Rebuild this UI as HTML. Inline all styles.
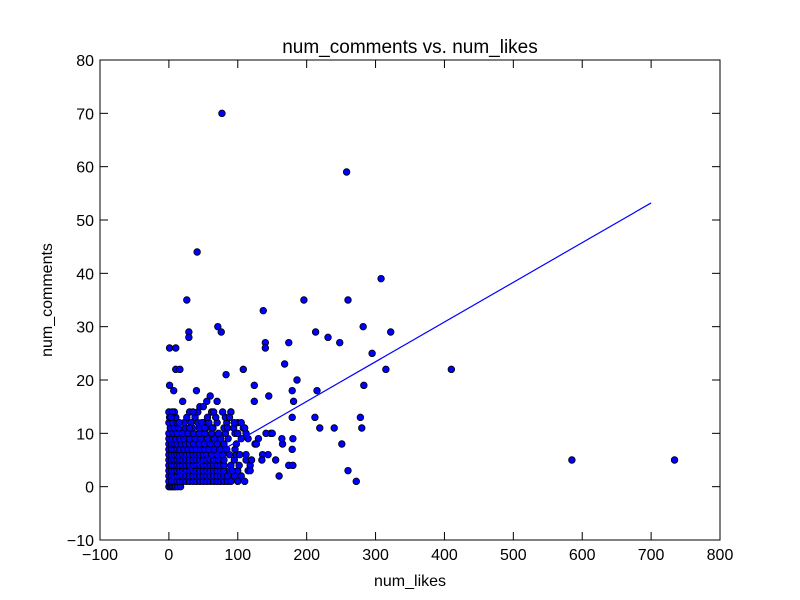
<!DOCTYPE html>
<html><head><meta charset="utf-8"><style>
body{margin:0;background:#fff;}
svg{display:block;font-family:"Liberation Sans",sans-serif;}
</style></head><body>
<svg id="chart" width="800" height="600">
<rect width="800" height="600" fill="#fff"/>
<text x="410" y="53" font-size="19" text-anchor="middle">num_comments vs. num_likes</text>
<text x="410" y="586" font-size="16" text-anchor="middle">num_likes</text>
<text x="52" y="300" font-size="16" text-anchor="middle" transform="rotate(-90 52 300)">num_comments</text>
<g id="ticks"></g>
<g id="marks"></g>
<rect x="100" y="60" width="620" height="480" fill="none" stroke="#000" stroke-width="1"/>
</svg>
<script>
const xTicks=[-100,0,100,200,300,400,500,600,700,800];
const yTicks=[-10,0,10,20,30,40,50,60,70,80];
const outlierLikes=[77,258,41,308,196,260,26,137,71,76,29,29,282,322,213,231,248,174,140,140,295,168,410,315,108,10,16,1,10,215,179,186,83,283,124,1,7,145,181,124,278,212,179,219,240,280,251,165,179,144,136,160,260,272,174,180,585,734,148,141,164,180,90,95,100,105,110,115,112,118,98,92,120,125,130,60,65,55,45,50,35,40,70,85,20,15,5,3,30,48,52,63,88,103,118,127,135,150,155];
const outlierComments=[70,59,44,39,35,35,35,33,30,29,29,28,30,29,29,28,27,27,27,26,25,23,22,22,22,22,22,26,26,18,18,20,21,19,19,19,18,17,16,16,13,13,13,11,11,11,8,8,7,6,6,2,3,1,4,4,5,5,10,10,9,9,14,12,10,12,11,9,6,4,8,3,5,8,9,17,14,16,15,15,14,18,16,11,16,12,14,13,11,12,11,11,13,6,3,8,5,10,5];
const row0=[0,2,4,6,8,10,13,17];
const row1=[0,4,8,12,16,20,25,30,35,40,45,50,55,60,65,70,75,80,85,90,100,110];
const row2=[0,4,8,12,16,20,25,30,35,40,45,50,55,60,65,70,75,80,85,95,105];
const row3=[0,4,8,12,16,20,25,30,35,40,45,50,55,60,65,70,75,80,88,100,115];
const row4=[0,4,8,12,16,20,25,30,35,40,45,50,55,60,65,70,75,80,90,102];
const row5=[0,4,8,12,16,20,25,30,35,40,45,50,55,60,65,72,80,95,112];
const row6=[0,4,8,12,16,20,25,30,35,40,45,50,55,62,70,78,88,98];
const row7=[0,4,8,12,16,22,28,34,40,46,52,58,66,74,84,96];
const row8=[0,4,8,12,18,24,30,36,44,52,60,70,80];
const row9=[0,5,10,16,22,30,38,46,56,66,75,86,105];
const row10=[0,6,12,20,28,36,44,52,62,72,82,96,112];
const row11=[2,8,14,24,34,44,54,64,80,94,108];
const row12=[0,6,12,22,32,42,50,58,70,84,100];
const row13=[1,10,26,38,56,68,82];
const row14=[0,8,30,42,62,78,90];
const clusterRows=[row0,row1,row2,row3,row4,row5,row6,row7,row8,row9,row10,row11,row12,row13,row14];
const fitLikes=[0,700];
const fitComments=[1.1,53.2];
const NS='http://www.w3.org/2000/svg';
const sx=v=>100+(v+100)*620/900;
const sy=v=>540-(v+10)*480/90;
const tk=document.getElementById('ticks'),mk=document.getElementById('marks');
function mkEl(t,a,p){const e=document.createElementNS(NS,t);for(const k in a)e.setAttribute(k,a[k]);p.appendChild(e);return e;}
xTicks.forEach(v=>{const x=sx(v);
 const l1=mkEl('line',{x1:x,x2:x,y1:540,y2:532,stroke:'#000'},tk);
 
 
 const l2=mkEl('line',{x1:x,x2:x,y1:60,y2:68,stroke:'#000'},tk);
 
 
 const t=mkEl('text',{x:x,y:560,'font-size':16,'text-anchor':'middle'},tk);t.textContent=v<0?'\u2212'+(-v):v;
 
 });
yTicks.forEach(v=>{const y=sy(v);
 const l1=mkEl('line',{x1:100,x2:108,y1:y,y2:y,stroke:'#000'},tk);
 
 
 const l2=mkEl('line',{x1:712,x2:720,y1:y,y2:y,stroke:'#000'},tk);
 
 
 const t=mkEl('text',{x:94,y:y+6,'font-size':16,'text-anchor':'end'},tk);t.textContent=v<0?'\u2212'+(-v):v;
 
 });
function pt(x,y){const c=mkEl('circle',{cx:sx(x),cy:sy(y),r:3.3,fill:'#0000ff',stroke:'#000','stroke-width':0.8},mk);
 
 }
clusterRows.forEach((r,i)=>r.forEach(x=>pt(x,i)));
outlierLikes.forEach((x,i)=>pt(x,outlierComments[i]));
const ln=mkEl('line',{x1:sx(fitLikes[0]),y1:sy(fitComments[0]),x2:sx(fitLikes[1]),y2:sy(fitComments[1]),stroke:'#0000ff','stroke-width':1.2},mk);


</script>
</body></html>
